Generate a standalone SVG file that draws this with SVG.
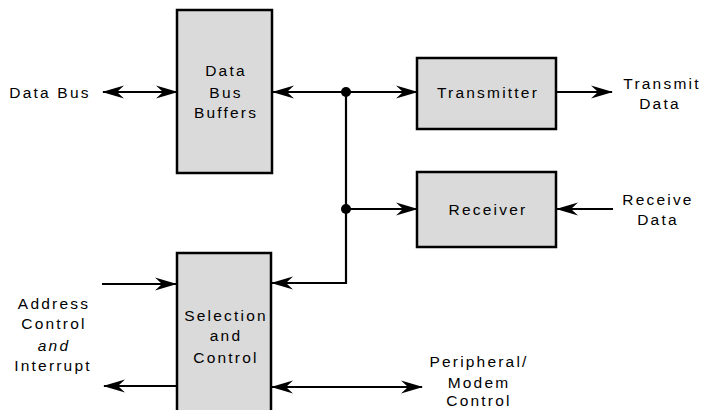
<svg xmlns="http://www.w3.org/2000/svg" width="703" height="410" viewBox="0 0 703 410">
<style>
.box{fill:#dadada;stroke:#000;stroke-width:2.5}
.lbl{font-family:"Liberation Sans",Arial,sans-serif;font-size:15.5px;letter-spacing:2.2px;fill:#000;text-anchor:middle}
.it{font-style:italic}
.ln{stroke:#000;stroke-width:2.2;fill:none}
.end{marker-end:url(#ah)}
.both{marker-end:url(#ah);marker-start:url(#ah)}
</style>
<defs>
<marker id="ah" markerUnits="userSpaceOnUse" viewBox="0 0 22 14" refX="21" refY="7" markerWidth="22" markerHeight="14" orient="auto-start-reverse">
<path d="M0,0.5 L22,7 L0,13.5 L7,7 Z" fill="#000"/>
</marker>
</defs>
<rect width="703" height="410" fill="#fff"/>
<g id="connectors">
<line class="ln both" x1="103" y1="92" x2="177" y2="92"/>
<line class="ln end" x1="346" y1="92" x2="273" y2="92"/>
<line class="ln end" x1="346" y1="92" x2="417" y2="92"/>
<line class="ln end" x1="556" y1="92" x2="612" y2="92"/>
<line class="ln" x1="346" y1="92" x2="346" y2="284"/>
<line class="ln end" x1="346" y1="209" x2="417" y2="209"/>
<line class="ln end" x1="613" y1="209" x2="557" y2="209"/>
<line class="ln end" x1="347" y1="283" x2="272" y2="283"/>
<line class="ln end" x1="102" y1="284" x2="176" y2="284"/>
<line class="ln end" x1="177" y1="386" x2="104" y2="386"/>
<line class="ln both" x1="272" y1="387" x2="422" y2="387"/>
<circle cx="346" cy="92" r="5" fill="#000"/>
<circle cx="346" cy="209" r="5" fill="#000"/>
</g>
<g id="dbb">
<rect class="box" x="177" y="10" width="95" height="163"/>
<text class="lbl" x="226" y="76">Data</text>
<text class="lbl" x="226" y="98">Bus</text>
<text class="lbl" x="226" y="118">Buffers</text>
</g>
<g id="transmitter">
<rect class="box" x="417" y="58" width="139" height="71"/>
<text class="lbl" x="488" y="98">Transmitter</text>
</g>
<g id="receiver">
<rect class="box" x="417" y="172" width="139" height="75"/>
<text class="lbl" x="488" y="215">Receiver</text>
</g>
<g id="selection">
<rect class="box" x="177" y="253" width="94" height="170"/>
<text class="lbl" x="226" y="321">Selection</text>
<text class="lbl" x="226" y="341">and</text>
<text class="lbl" x="226" y="363">Control</text>
</g>
<g id="labels">
<text class="lbl" x="50" y="98">Data Bus</text>
<text class="lbl" x="662" y="89">Transmit</text>
<text class="lbl" x="660" y="109">Data</text>
<text class="lbl" x="658" y="205">Receive</text>
<text class="lbl" x="658" y="225">Data</text>
<text class="lbl" x="54" y="309">Address</text>
<text class="lbl" x="54" y="329">Control</text>
<text class="lbl it" x="54" y="351">and</text>
<text class="lbl" x="53" y="371">Interrupt</text>
<text class="lbl" x="479" y="367">Peripheral/</text>
<text class="lbl" x="479" y="388">Modem</text>
<text class="lbl" x="479" y="406">Control</text>
</g>
</svg>
